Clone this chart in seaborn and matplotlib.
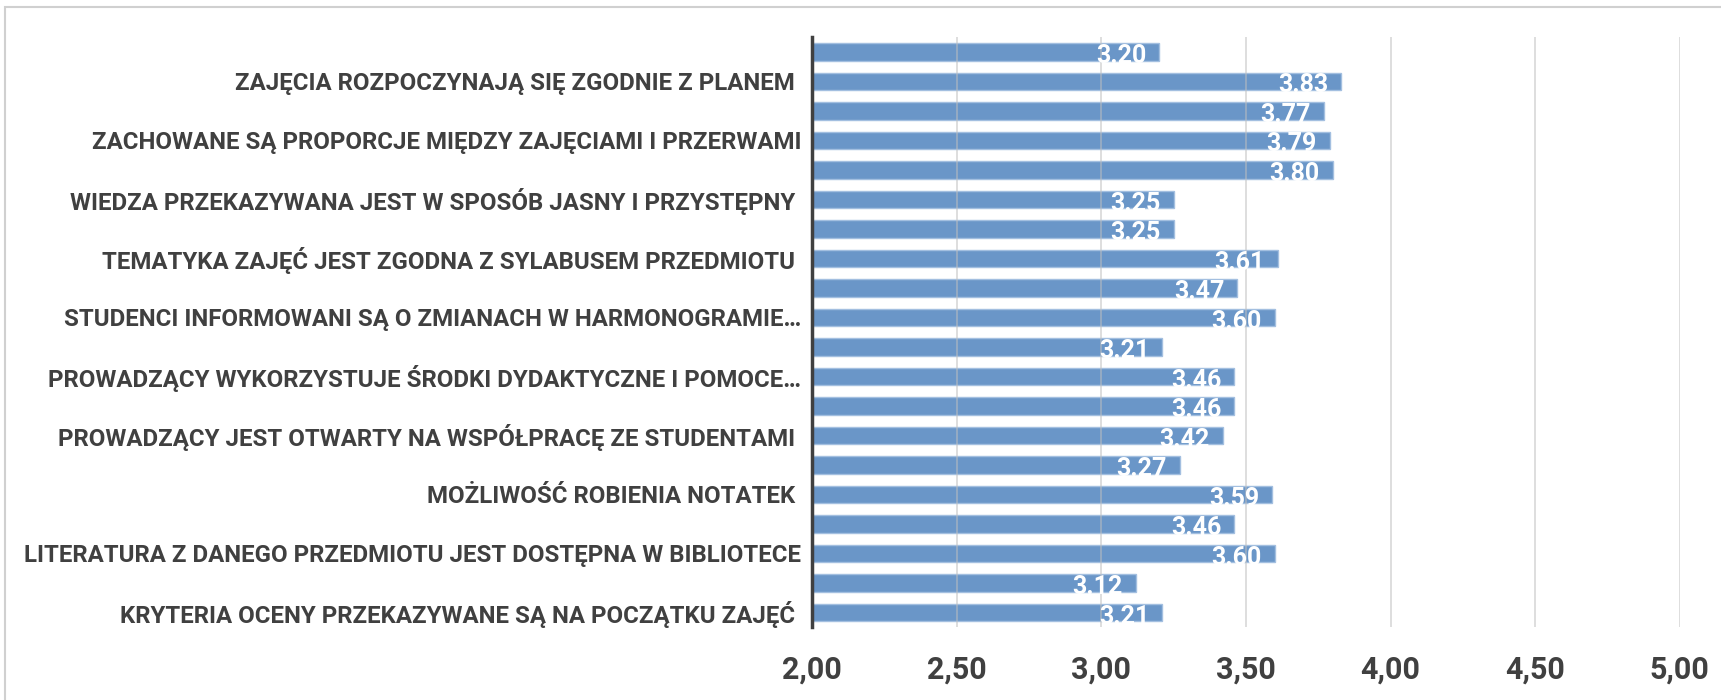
import matplotlib
matplotlib.use("Agg")
import matplotlib.pyplot as plt
import seaborn as sns
import pandas as pd
from matplotlib.patches import Rectangle

# bars listed top to bottom
values = [3.20, 3.83, 3.77, 3.79, 3.80, 3.25, 3.25, 3.61, 3.47, 3.60,
          3.21, 3.46, 3.46, 3.42, 3.27, 3.59, 3.46, 3.60, 3.12, 3.21]
# only every other category label is shown in the chart
tick_labels = ['', 'ZAJĘCIA ROZPOCZYNAJĄ SIĘ ZGODNIE Z PLANEM ',
               '', 'ZACHOWANE SĄ PROPORCJE MIĘDZY ZAJĘCIAMI I PRZERWAMI',
               '', 'WIEDZA PRZEKAZYWANA JEST W SPOSÓB JASNY I PRZYSTĘPNY ',
               '', 'TEMATYKA ZAJĘĆ JEST ZGODNA Z SYLABUSEM PRZEDMIOTU ',
               '', 'STUDENCI INFORMOWANI SĄ O ZMIANACH W HARMONOGRAMIE…',
               '', 'PROWADZĄCY WYKORZYSTUJE ŚRODKI DYDAKTYCZNE I POMOCE…',
               '', 'PROWADZĄCY JEST OTWARTY NA WSPÓŁPRACĘ ZE STUDENTAMI ',
               '', 'MOŻLIWOŚĆ ROBIENIA NOTATEK ',
               '', 'LITERATURA Z DANEGO PRZEDMIOTU JEST DOSTĘPNA W BIBLIOTECE',
               '', 'KRYTERIA OCENY PRZEKAZYWANE SĄ NA POCZĄTKU ZAJĘĆ ']
x_ticks = [2.0, 2.5, 3.0, 3.5, 4.0, 4.5, 5.0]

df = pd.DataFrame({'id': [str(i) for i in range(len(values))], 'Value': values})

sns.set_style('white')
plt.rcParams['font.family'] = ['Roboto', 'DejaVu Sans']

fig = plt.figure(figsize=(17.21, 7), dpi=100)
ax = fig.add_axes([0.472, 0.104, 0.504, 0.843])
sns.barplot(data=df, x='Value', y='id', orient='h', color='#6a96c8',
            width=0.59, edgecolor='#a3bfe0', linewidth=1.0, saturation=1, ax=ax)

ax.set_xlim(2, 5)
ax.set_xticks(x_ticks)
ax.set_xticklabels([f'{t:.2f}'.replace('.', ',') for t in x_ticks],
                   fontsize=22, fontweight='bold', color='#404040')
ax.set_yticks(range(len(values)))
ax.set_yticklabels(tick_labels, fontsize=17.3, fontweight='bold', color='#404040')
ax.tick_params(axis='x', pad=20, length=0)
ax.tick_params(axis='y', pad=8, length=0)
ax.set_xlabel('')
ax.set_ylabel('')
ax.set_ylim(len(values) - 0.5, -0.5)

for s in ['top', 'right', 'bottom']:
    ax.spines[s].set_visible(False)
ax.spines['left'].set_color('#404040')
ax.spines['left'].set_linewidth(2.5)
ax.spines['left'].set_zorder(5)

for t in x_ticks[1:]:
    ax.axvline(t, color='#bfbfbf', lw=1.2, alpha=0.6, zorder=4)

for i, v in enumerate(values):
    ax.text(v - 0.045, i + 0.14, f'{v:.2f}', ha='right', va='center',
            color='white', fontsize=18, fontweight='bold', zorder=6)

fig.patches.append(Rectangle((5 / 1721, -0.1), 1.2, 1 - 7 / 700 + 0.1,
                             transform=fig.transFigure, fill=False,
                             edgecolor='#d0d0d0', lw=1.5))

fig.savefig('out.png', dpi=100)
